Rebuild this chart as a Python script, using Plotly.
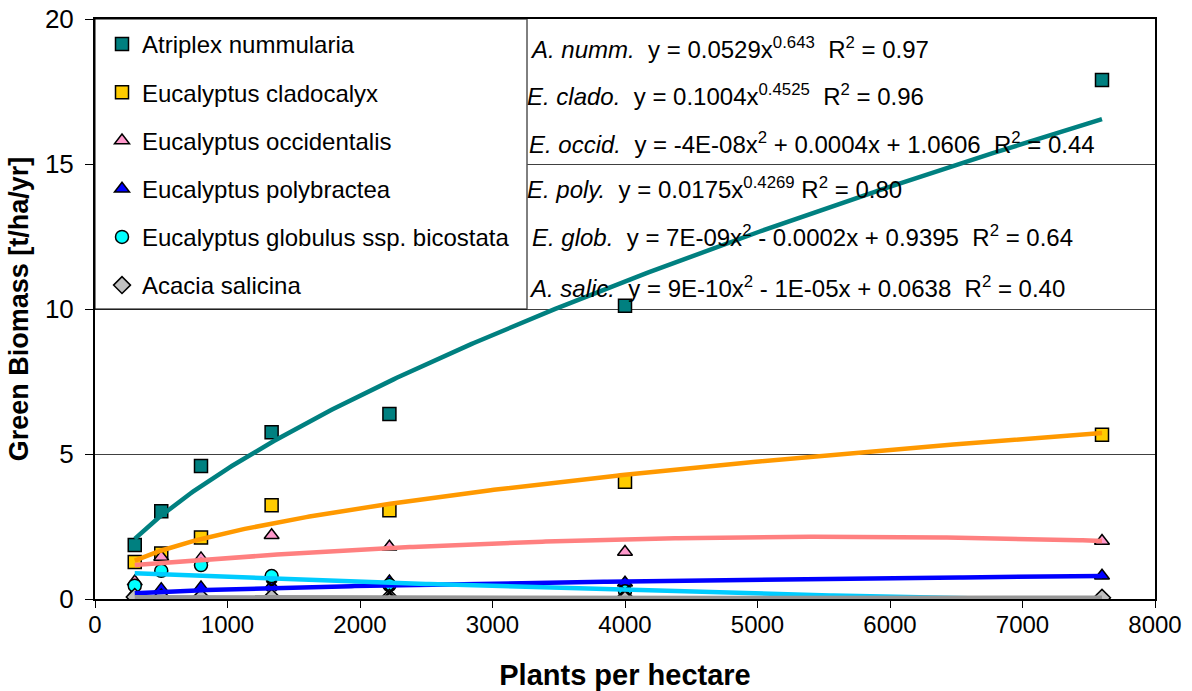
import numpy as np
import plotly.graph_objects as go

# ---- data ----
plants = [300, 500, 800, 1333, 2222, 4000, 7600]
atriplex = [1.86, 3.03, 4.59, 5.75, 6.38, 10.11, 17.90]
cladocalyx = [1.28, 1.57, 2.12, 3.23, 3.06, 4.04, 5.66]
occidentalis = [0.60, 1.45, 1.40, 2.20, 1.80, 1.62, 2.00]
polybractea = [0.20, 0.34, 0.40, 0.45, 0.60, 0.56, 0.80]
globulus = [0.46, 0.97, 1.17, 0.79, 0.48, 0.27, 0.00]
acacia = [0.07, 0.05, 0.05, 0.05, 0.04, 0.04, 0.04]
unlabelled = [None, None, None, 0.45, 0.22, 0.30, None]

series_names = ["Atriplex nummularia", "Eucalyptus cladocalyx", "Eucalyptus occidentalis",
                "Eucalyptus polybractea", "Eucalyptus globulus ssp. bicostata", "Acacia salicina"]
series_values = [atriplex, cladocalyx, occidentalis, polybractea, globulus, acacia]

# trendline coefficients (from the printed equations; rounded ones refined from the drawn curves)
trend_types = ["power", "power", "poly2", "power", "poly2", "poly2"]
trend_coefs = [
    [0.0529, 0.643],
    [0.1004, 0.4525],
    [-3.5e-08, 0.00039, 1.0606],
    [0.0175, 0.4269],
    [7e-09, -0.000186, 0.9395],
    [9e-10, -1e-05, 0.0638],
]

marker_symbols = ["square", "square", "triangle-up", "triangle-up", "circle", "diamond"]
marker_fills = ["#008080", "#FFCC00", "#FF99CC", "#0000FF", "#00FFFF", "#C0C0C0"]
line_colors = ["#008080", "#FF9900", "#FF8080", "#0000FF", "#00CCFF", "#969696"]

equation_labels = [
    "<i>A. numm.</i>&nbsp; y = 0.0529x<sup>0.643</sup>&nbsp; R<sup>2</sup> = 0.97",
    "<i>E. clado.</i>&nbsp; y = 0.1004x<sup>0.4525</sup>&nbsp; R<sup>2</sup> = 0.96",
    "<i>E. occid.</i>&nbsp; y = -4E-08x<sup>2</sup> + 0.0004x + 1.0606&nbsp; R<sup>2</sup> = 0.44",
    "<i>E. poly.</i>&nbsp; y = 0.0175x<sup>0.4269</sup> R<sup>2</sup> = 0.80",
    "<i>E. glob.</i>&nbsp; y = 7E-09x<sup>2</sup> - 0.0002x + 0.9395&nbsp; R<sup>2</sup> = 0.64",
    "<i>A. salic.</i>&nbsp; y = 9E-10x<sup>2</sup> - 1E-05x + 0.0638&nbsp; R<sup>2</sup> = 0.40",
]
equation_px = [(528, 48), (525, 95), (527, 143), (525, 188), (530, 236), (527, 287)]

FONT = "Liberation Sans, Arial, sans-serif"
fig = go.Figure()

# markers
for name, vals, sym, fill in zip(series_names, series_values, marker_symbols, marker_fills):
    fig.add_trace(go.Scatter(
        x=plants, y=vals, mode="markers", name=name, legendgroup=name,
        marker=dict(symbol=sym, size=13, color=fill, line=dict(color="black", width=1.5)),
    ))
fig.add_trace(go.Scatter(
    x=plants, y=unlabelled, mode="markers", showlegend=False,
    marker=dict(symbol="x-thin", size=10, line=dict(color="black", width=2.5)),
))

# trendlines
xs = np.linspace(min(plants), max(plants), 300)
for kind, coef, col in zip(trend_types, trend_coefs, line_colors):
    if kind == "power":
        ys = coef[0] * xs ** coef[1]
    else:
        ys = np.polyval(coef, xs)
    fig.add_trace(go.Scatter(x=xs, y=ys, mode="lines", showlegend=False,
                             line=dict(color=col, width=4.5), hoverinfo="skip"))

L, R, T, B = 95, 1155, 19, 599
W, H = 1192, 691
XMAX, YMAX = 8000, 20

def px_x(p):
    return (p - L) / (R - L)

def px_y(p):
    return (B - p) / (B - T)

box_split = px_x(527) * XMAX
shapes = [
    dict(type="rect", xref="x", yref="y", x0=0, x1=box_split, y0=YMAX / 2, y1=YMAX,
         fillcolor="white", line=dict(color="black", width=1), layer="between"),
    dict(type="line", xref="x", yref="y", x0=box_split, x1=box_split, y0=YMAX / 2, y1=YMAX,
         line=dict(color="#808080", width=1), layer="between"),
]

annotations = []
for txt, (ex, ey) in zip(equation_labels, equation_px):
    annotations.append(dict(xref="paper", yref="paper", x=px_x(ex), y=px_y(ey),
                            xanchor="left", yanchor="middle", text=txt, showarrow=False,
                            font=dict(family=FONT, size=24, color="black")))

fig.update_layout(
    width=W, height=H,
    margin=dict(l=L, r=W - R, t=T, b=H - B, autoexpand=False),
    paper_bgcolor="white", plot_bgcolor="white",
    font=dict(family=FONT, size=24, color="black"),
    showlegend=True,
    legend=dict(x=px_x(102), y=px_y(22), xanchor="left", yanchor="top", bgcolor="rgba(0,0,0,0)",
                font=dict(family=FONT, size=24, color="black"), tracegroupgap=14,
                borderwidth=0),
    shapes=shapes,
    annotations=annotations,
    xaxis=dict(range=[0, XMAX], dtick=1000, tick0=0, showgrid=False, zeroline=False,
               showline=True, linecolor="black", linewidth=2, mirror=True, automargin=False,
               ticks="outside", ticklen=7, tickcolor="black", tickwidth=1,
               ticklabelstandoff=-4,
               tickfont=dict(family=FONT, size=24),
               title=dict(text="<b>Plants per hectare</b>", font=dict(family=FONT, size=29), standoff=32)),
    yaxis=dict(range=[0, YMAX], dtick=5, tick0=0, showgrid=True, gridcolor="#404040", gridwidth=1,
               zeroline=False, showline=True, linecolor="black", linewidth=2, mirror=True, automargin=False,
               ticks="outside", ticklen=8, tickcolor="black", tickwidth=1,
               ticklabelstandoff=6,
               tickfont=dict(family=FONT, size=26),
               title=dict(text="<b>Green Biomass [t/ha/yr]</b>", font=dict(family=FONT, size=27), standoff=8)),
)

fig.write_html("out.html")
